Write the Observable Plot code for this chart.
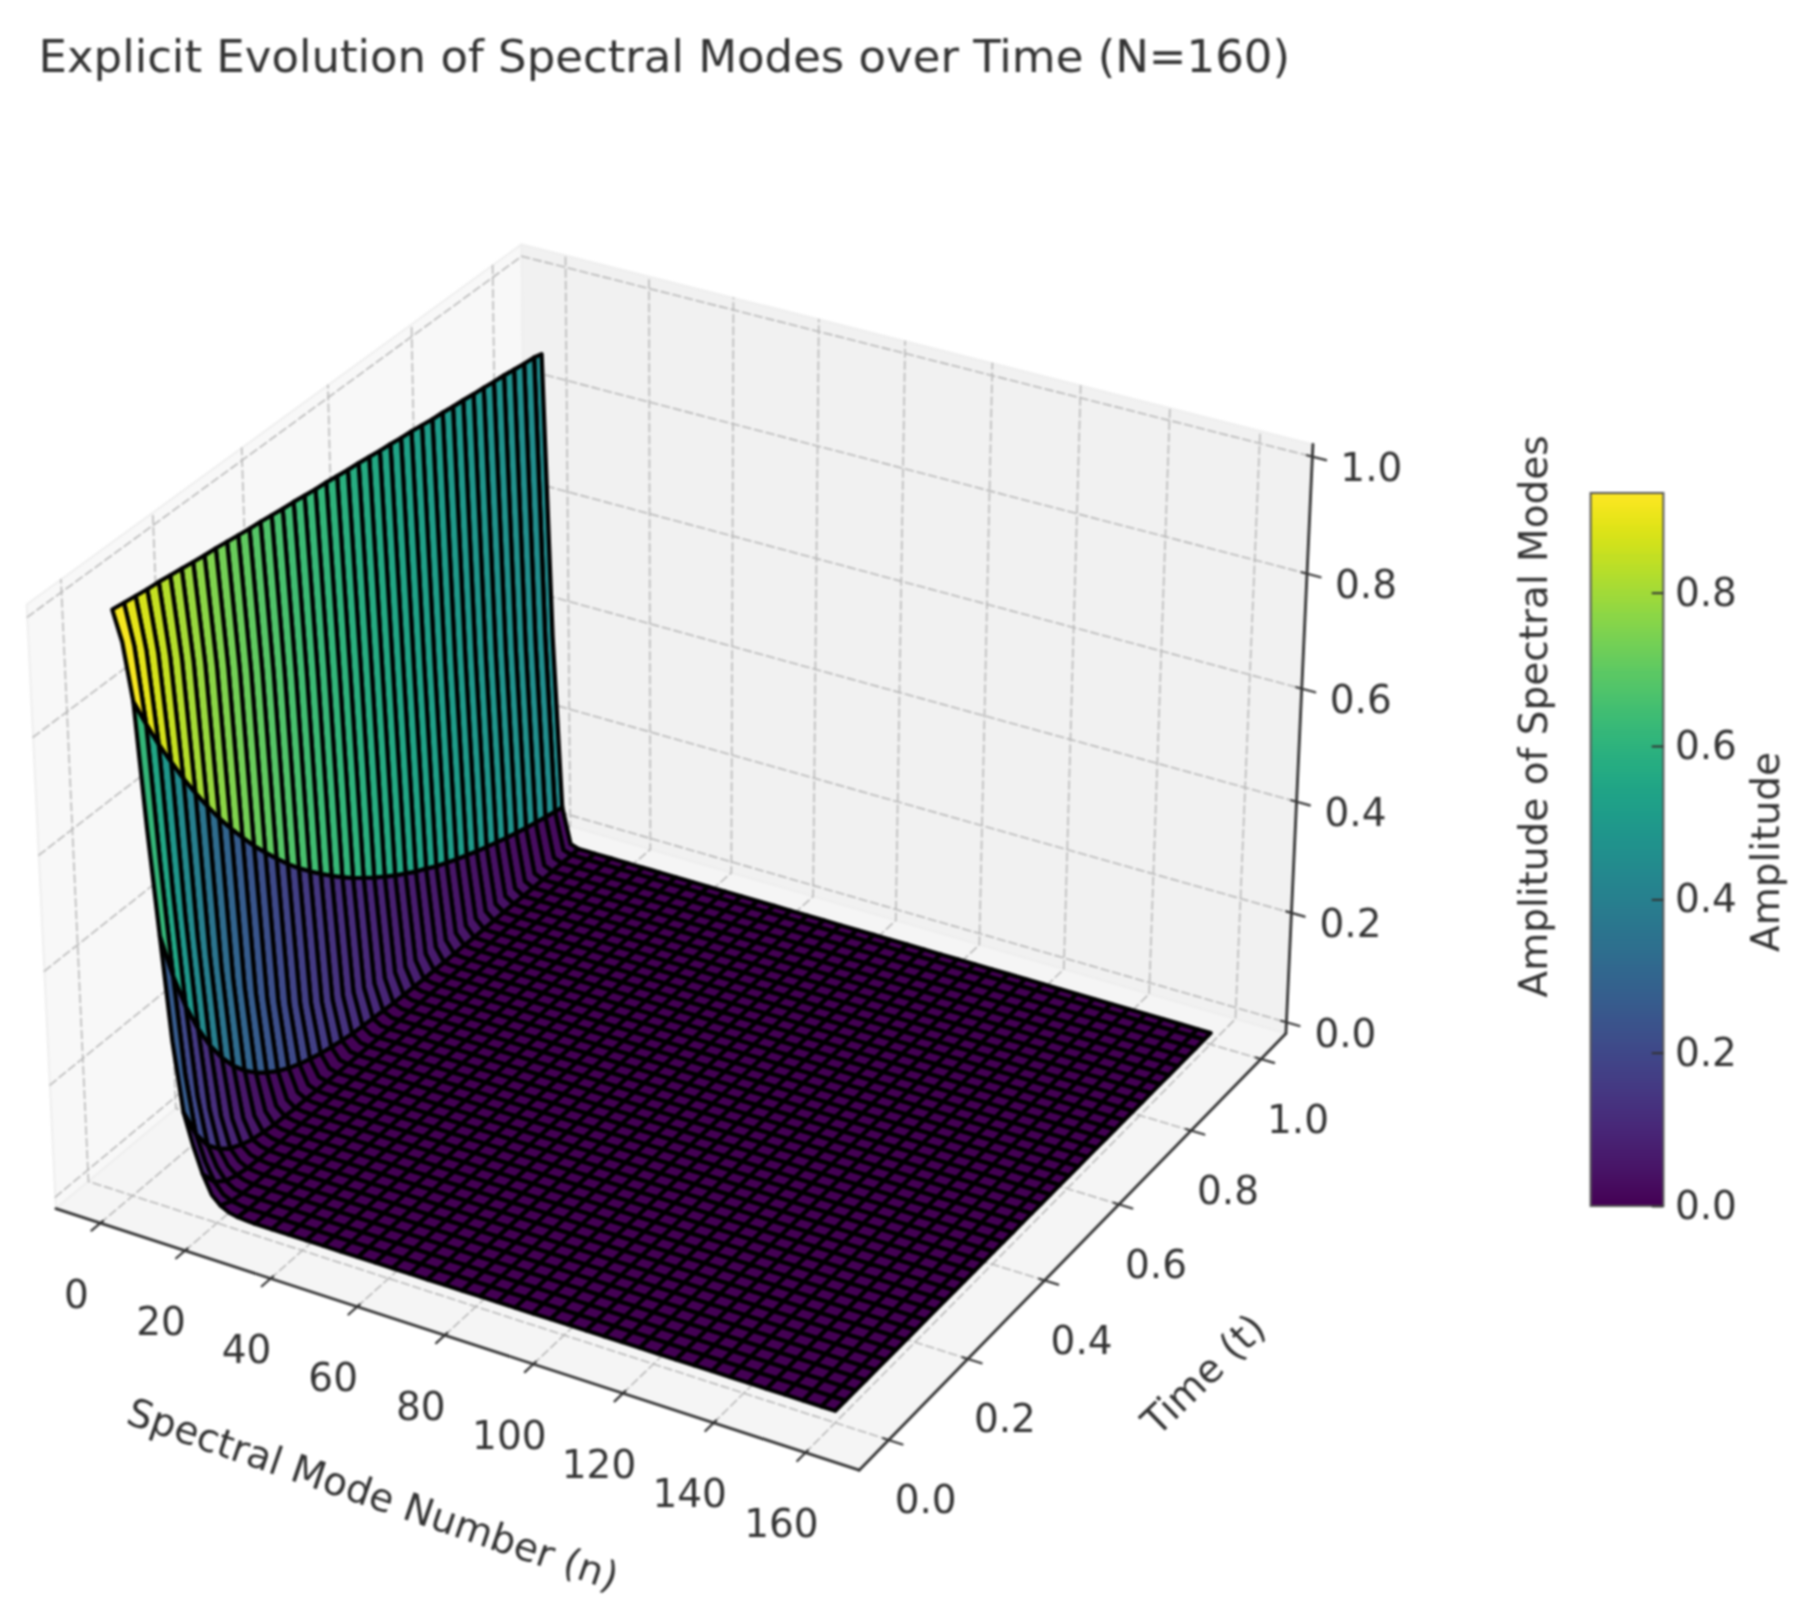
<!DOCTYPE html>
<html>
<head>
<meta charset="utf-8">
<script src="https://cdn.jsdelivr.net/npm/d3@7"></script>
<script src="https://cdn.jsdelivr.net/npm/@observablehq/plot@0.6"></script>
<style>
html,body{margin:0;padding:0;background:#fff;}
#chart{position:relative;width:1810px;height:1603px;overflow:hidden;}
#chart svg{position:absolute;left:0;top:0;filter:blur(1px);}
</style>
</head>
<body>
<div id="chart"></div>
<script>
// Chart text
const chartTitle = "Explicit Evolution of Spectral Modes over Time (N=160)";
const modeLabel = "Spectral Mode Number (n)";
const timeLabel = "Time (t)";
const ampLabel = "Amplitude of Spectral Modes";
const barLabel = "Amplitude";

// Tick values
const modeTicks = [0, 20, 40, 60, 80, 100, 120, 140, 160];
const timeTicks = [0, 0.2, 0.4, 0.6, 0.8, 1];
const ampTicks = [0, 0.2, 0.4, 0.6, 0.8, 1];
const barTicks = [0, 0.2, 0.4, 0.6, 0.8];
const barMax = 0.93;

// Axis limits of the 3D box
const modeLim = [-10.6, 171.6];
const timeLim = [-0.0729, 1.0729];
const ampLim = [-0.0208, 1.0208];

// Surface grid (every 4th sample of 160)
const modeGrid = [1,5,9,13,17,21,25,29,33,37,41,45,49,53,57,61,65,69,73,77,81,85,89,93,97,101,105,109,113,117,121,125,129,133,137,141,145,149,153,157,160];
const timeGrid = [0,.0252,.0503,.0755,.1006,.1258,.1509,.1761,.2013,.2264,.2516,.2767,.3019,.3270,.3522,.3774,.4025,.4277,.4528,.4780,.5031,.5283,.5535,.5786,.6038,.6289,.6541,.6792,.7044,.7296,.7547,.7799,.8050,.8302,.8553,.8805,.9057,.9308,.9560,.9811,1];

// Amplitudes, one list per mode; what is not listed sits on the floor (0)
const ampMode1 = [.995,.992,.989,.986,.984,.981,.978,.975,.972,.970,.967,.964,.961,.959,.956,.953,.951,.948,.945,.943,.940,.937,.935,.932,.929,.927,.924,.922,.919,.916,.914,.911,.909,.906,.904,.901,.899,.896,.893,.891,.887];
const ampMode3 = [.945,.924,.903,.883,.863,.844,.825,.807,.789,.771,.754,.737,.720,.704,.688,.673,.658,.643,.629,.615,.601,.588,.574,.562,.549,.537,.525,.513,.501,.490,.479,.468,.458,.448,.438,.428,.418,.409,.400,.391,.384];
const ampMode5 = [.850,.798,.749,.704,.661,.621,.583,.547,.514,.483,.453,.426,.400,.375,.352,.331,.311,.292,.274,.257,.242,.227,.213,.200,.188,.176,.166,.155,.146,.137,.129,.121,.114,.107,.100,.094,.088,.083,.078,.073,.070];
const ampMode7 = [.640,.566,.500,.442,.391,.346,.306,.270,.239,.211,.187,.165,.146,.129,.114,.101,.089,.079,.070,.062,.054,.048,.042,.037,.033,.029,.026,.023,.020,.018,.016,.014,.012,.011,.010,.008,.007,.007,.006,.005,.005];
const ampMode9 = [.460,.375,.306,.250,.204,.166,.135,.110,.090,.074,.060,.049,.040,.033,.027,.022,.018,.014,.012,.010,.008,.006,.005,.004,.003,.003,.002,.002,.002,.001,.001,.001,.001,.001];
const ampMode11 = [.280,.206,.152,.112,.083,.061,.045,.033,.025,.018,.013,.010,.007,.005,.004,.003,.002,.002,.001,.001];
const ampMode13 = [.160,.105,.068,.045,.029,.019,.012,.008,.005,.004,.002,.002,.001,.001];
const ampMode15 = [.105,.060,.034,.019,.011,.006,.004,.002,.001,.001];
const ampMode17 = [.060,.029,.014,.007,.003,.002,.001];
const ampMode19 = [.027,.011,.004,.002,.001];
const ampMode21 = [.013,.004,.001];
const ampMode23 = [.005,.001];
const ampMode25 = [.002];
const ampMode27 = [.001];
const ampByMode = new Map([[1,ampMode1],[3,ampMode3],[5,ampMode5],[7,ampMode7],[9,ampMode9],[11,ampMode11],[13,ampMode13],[15,ampMode15],[17,ampMode17],[19,ampMode19],[21,ampMode21],[23,ampMode23],[25,ampMode25],[27,ampMode27]]);

// 3D view: elevation 30, azimuth -60, box aspect 4:4:3, distance 10
const box = [1.19, 1.19, 0.893];
function project(n, t, a) {
  const px = ((n - modeLim[0]) / (modeLim[1] - modeLim[0]) - 0.5) * box[0];
  const py = ((t - timeLim[0]) / (timeLim[1] - timeLim[0]) - 0.5) * box[1];
  const pz = ((a - ampLim[0]) / (ampLim[1] - ampLim[0]) - 0.5) * box[2];
  const d = 10 - (0.433 * px - 0.75 * py + 0.5 * pz);
  return {x: (0.866 * px + 0.5 * py) / d, y: (-0.25 * px + 0.433 * py + 0.866 * pz) / d, depth: d};
}
const path = (id, pts) => pts.map(([n, t, a]) => ({id, ...project(n, t, a)}));

const [n0, n1] = modeLim, [t0, t1] = timeLim, [a0, a1] = ampLim;

const panes = [
  {fill: "#f8f8f8", pts: path("left", [[n0,t0,a0],[n0,t1,a0],[n0,t1,a1],[n0,t0,a1]])},
  {fill: "#f1f1f1", pts: path("back", [[n0,t1,a0],[n1,t1,a0],[n1,t1,a1],[n0,t1,a1]])},
  {fill: "#f5f5f5", pts: path("floor", [[n0,t0,a0],[n1,t0,a0],[n1,t1,a0],[n0,t1,a0]])}
];

const gridLines = [
  ...modeTicks.flatMap(n => path("n" + n, [[n,t0,a0],[n,t1,a0],[n,t1,a1]])),
  ...timeTicks.flatMap(t => path("t" + t, [[n1,t,a0],[n0,t,a0],[n0,t,a1]])),
  ...ampTicks.flatMap(a => path("a" + a, [[n0,t0,a],[n0,t1,a],[n1,t1,a]]))
];

const axisLines = [
  ...path("xaxis", [[n0,t0,a0],[n1,t0,a0]]),
  ...path("taxis", [[n1,t0,a0],[n1,t1,a0]]),
  ...path("zaxis", [[n1,t1,a0],[n1,t1,a1]])
];
const tickMarks = [
  ...modeTicks.flatMap(n => path("tn" + n, [[n,t0 - 0.02,a0],[n,t0 + 0.006,a0]])),
  ...timeTicks.flatMap(t => path("tt" + t, [[n1 - 1.2,t,a0],[n1 + 3,t,a0]])),
  ...ampTicks.flatMap(a => path("ta" + a, [[n1 - 1.2,t1,a],[n1 + 3,t1,a]]))
];

// Surface cells, painted far to near; sides follow the amplitude lists between grid rows
const ampAt = (n, j) => { const row = ampByMode.get(n); return (row && row[j]) || 0; };
const cells = [];
for (let i = 0; i < modeGrid.length - 1; ++i) {
  const na = modeGrid[i], nb = modeGrid[i + 1], nm = (na + nb) / 2;
  const side = ampByMode.has(nm) ? [na, nm, nb] : [na, nb];
  for (let j = 0; j < timeGrid.length - 1; ++j) {
    const corners = [
      ...side.map(n => [n, timeGrid[j], ampAt(n, j)]),
      ...side.slice().reverse().map(n => [n, timeGrid[j + 1], ampAt(n, j + 1)])
    ];
    const amp = d3.mean(corners, c => c[2]);
    const pts = corners.map(c => project(...c));
    cells.push({amp, pts, depth: d3.mean(pts, p => p.depth)});
  }
}
cells.sort((a, b) => b.depth - a.depth);
const cellPoints = cells.flatMap((c, id) => c.pts.map(p => ({id, x: p.x, y: p.y, amp: c.amp})));

const labelAt = (vals, f, text) => vals.map(v => ({...f(v), label: text(v)}));
const font = {fontFamily: "'DejaVu Sans'", fill: "#333", fontSize: 39};
const colorScale = {type: "linear", scheme: "viridis", domain: [0, barMax]};

const main = Plot.plot({
  width: 1810, height: 1603, margin: 0,
  style: {background: "transparent"},
  x: {domain: [-0.08816, 0.1459], range: [0, 1810], axis: null},
  y: {domain: [-0.1006, 0.1073], range: [1603, 0], axis: null},
  color: colorScale,
  marks: [
    ...panes.map(p => Plot.line(p.pts, {x: "x", y: "y", curve: "linear-closed", fill: p.fill, stroke: "#eeeeee", strokeWidth: 2})),
    Plot.line(gridLines, {x: "x", y: "y", z: "id", stroke: "#b8b8b8", strokeWidth: 1.6, strokeDasharray: "8,4"}),
    Plot.line(tickMarks, {x: "x", y: "y", z: "id", stroke: "#333", strokeWidth: 2.2}),
    Plot.line(axisLines, {x: "x", y: "y", z: "id", stroke: "#333", strokeWidth: 2.8}),
    Plot.line(cellPoints, {x: "x", y: "y", z: "id", fill: "amp", stroke: "black", strokeWidth: 4.2, curve: "linear-closed"}),
    Plot.text(labelAt(modeTicks, n => project(n, t0, a0), n => String(n)), {x: "x", y: "y", text: "label", dx: -24, dy: 72, ...font}),
    Plot.text(labelAt(timeTicks, t => project(n1, t, a0), t => t.toFixed(1)), {x: "x", y: "y", text: "label", dx: 37, dy: 61, ...font}),
    Plot.text(labelAt(ampTicks, a => project(n1, t1, a), a => a.toFixed(1)), {x: "x", y: "y", text: "label", dx: 59, dy: 12, ...font}),
    Plot.text([{...project(80, t0, a0), label: modeLabel}], {x: "x", y: "y", text: "label", dx: -72, dy: 160, rotate: 19, ...font}),
    Plot.text([{...project(n1, 0.5, a0), label: timeLabel}], {x: "x", y: "y", text: "label", dx: 122, dy: 133, rotate: -44, ...font}),
    Plot.text([{...project(n1, t1, 0.5), label: ampLabel}], {x: "x", y: "y", text: "label", dx: 235, dy: -29, rotate: -90, ...font}),
    Plot.text([chartTitle], {frameAnchor: "top-left", dx: 38, dy: 57, lineAnchor: "middle", textAnchor: "start", ...font, fontSize: 45})
  ]
});

// Colour bar
const barStep = barMax / 256;
const barRamp = d3.range(256).map(i => i * barStep);
const bar = Plot.plot({
  width: 1810, height: 1603, margin: 0,
  style: {background: "transparent"},
  x: {domain: [0, 1], range: [1590.6, 1663.4], axis: null},
  y: {domain: [0, barMax], range: [1206, 493], axis: null},
  color: colorScale,
  marks: [
    Plot.rect(barRamp, {x1: 0, x2: 1, y1: d => d, y2: d => d + barStep, fill: d => d, shapeRendering: "crispEdges"}),
    Plot.rect([barMax], {x1: 0, x2: 1, y1: 0, y2: d => d, fill: "none", stroke: "#555", strokeWidth: 2}),
    Plot.ruleY(barTicks, {x1: 0.84, x2: 1, stroke: "#333", strokeWidth: 2}),
    Plot.text(barTicks, {x: 1, y: d => d, text: d => d.toFixed(1), dx: 11, textAnchor: "start", ...font}),
    Plot.text([barLabel], {x: 1, y: barMax / 2, dx: 103, dy: 2, rotate: -90, ...font})
  ]
});

const root = document.getElementById("chart");
root.appendChild(main);
root.appendChild(bar);
</script>
</body>
</html>
